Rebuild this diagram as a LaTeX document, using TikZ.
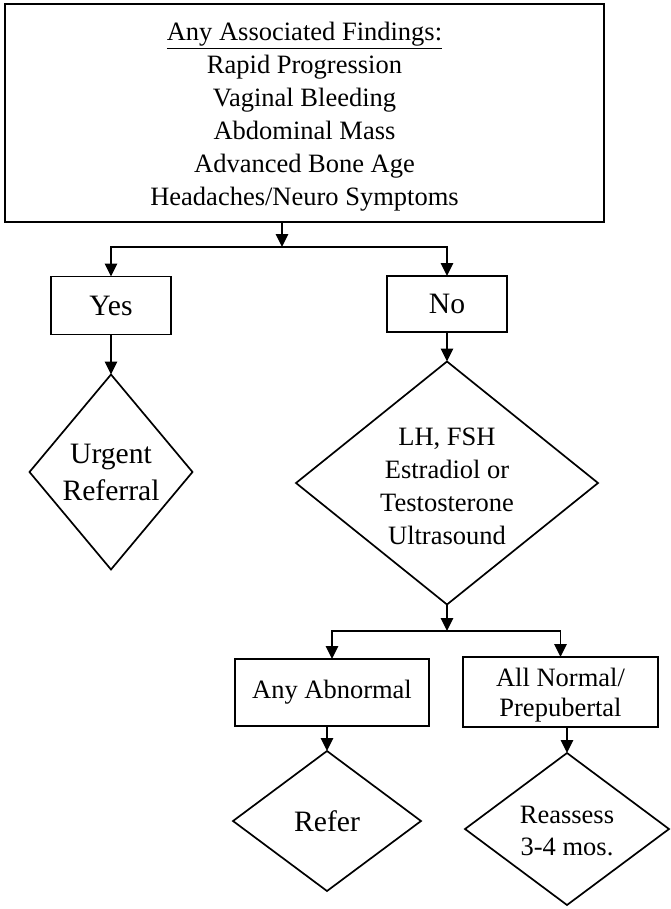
\documentclass[tikz,border=0pt]{standalone}
\usepackage{fontspec}
\setmainfont{Liberation Serif}
\usetikzlibrary{shapes.geometric,arrows.meta}

\tikzset{
  base/.style={font=\fontsize{26.5pt}{33pt}\selectfont, align=center, text=black},
  bigtext/.style={font=\fontsize{29.6pt}{37pt}\selectfont},
  boxnode/.style={base, draw=black, line width=1.9pt, rectangle, inner sep=0pt, outer sep=0pt},
  decision/.style={draw=black, line width=1.7pt, diamond, inner sep=0pt, outer sep=0pt},
  dtext/.style={base, inner sep=0pt},
  link/.style={line width=1.6pt, draw=black},
  arr/.style={link, -{Triangle[length=13pt,width=12.5pt]}},
}

\begin{document}
\begin{tikzpicture}[x=1pt, y=-1pt]
\useasboundingbox (0,0) rectangle (670,909);

% question box with the list of findings
\node[boxnode, minimum width=599pt, minimum height=218pt] (findings) at (304.5,113) {};
\node[dtext] (findingstext) at (304.5,117)
  {\underline{Any Associated Findings:}\\
   Rapid Progression\\
   Vaginal Bleeding\\
   Abdominal Mass\\
   Advanced Bone Age\\
   Headaches/Neuro Symptoms};

% answers
\node[boxnode, bigtext, minimum width=120pt, minimum height=58pt] (yes) at (111,305.5) {Yes};
\node[boxnode, bigtext, minimum width=120pt, minimum height=56pt] (no) at (447,304) {No};

% outcomes of the first question
\node[decision, minimum width=163pt, minimum height=195pt] (urgent) at (111,472) {};
\node[dtext, bigtext] (urgenttext) at (urgent.center) {Urgent\\Referral};

\node[decision, minimum width=302pt, minimum height=243pt] (tests) at (447,483) {};
\node[dtext] (teststext) at (447,486) {LH, FSH\\Estradiol or\\Testosterone\\Ultrasound};

% test results
\node[boxnode, minimum width=194pt, minimum height=67pt] (abnormal) at (332,692.5) {Any Abnormal};
\node[boxnode, minimum width=195pt, minimum height=70pt] (normal) at (560.5,692) {};
\node[dtext, font=\fontsize{26.5pt}{30pt}\selectfont] (normaltext) at (560.5,695) {All Normal/\\Prepubertal};

% final steps
\node[decision, minimum width=188pt, minimum height=140pt] (refer) at (327,821) {};
\node[dtext, bigtext] (refertext) at (refer.center) {Refer};

\node[decision, minimum width=204pt, minimum height=152pt] (reassess) at (567,829) {};
\node[dtext, font=\fontsize{26.5pt}{32pt}\selectfont] (reassesstext) at (567,831) {Reassess\\3-4 mos.};

% branching points
\coordinate (split1) at (282,247);
\coordinate (split2) at (447,631);

% connectors
\draw[arr] (split1 |- findings.south) -- (split1);
\draw[arr] (split1) -| (yes.north);
\draw[arr] (split1) -| (no.north);
\draw[arr] (yes.south) -- (urgent.north);
\draw[arr] (no.south) -- (tests.north);
\draw[arr] (tests.south) -- (split2);
\draw[arr] (split2) -| (abnormal.north);
\draw[arr] (split2) -| (normal.north);
\draw[arr] (refer.north |- abnormal.south) -- (refer.north);
\draw[arr] (reassess.north |- normal.south) -- (reassess.north);
\end{tikzpicture}
\end{document}
